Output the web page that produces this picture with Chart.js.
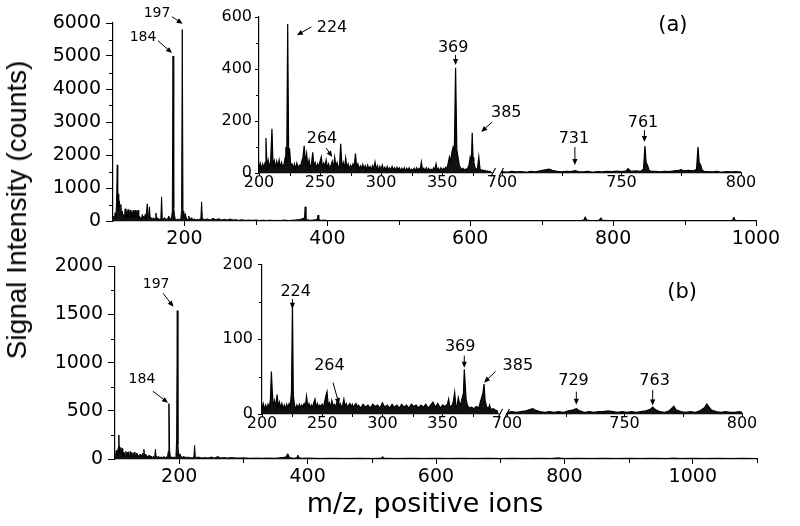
<!DOCTYPE html>
<html><head><meta charset="utf-8">
<script src="https://cdn.jsdelivr.net/npm/chart.js@4.4.1/dist/chart.umd.min.js"></script>
<style>
html,body{margin:0;padding:0;background:#fff;}
#wrap{position:relative;width:800px;height:526px;overflow:hidden;background:#fff;}
#wrap canvas{position:absolute;left:0;}
.title{position:absolute;color:#000;white-space:nowrap;line-height:32px;}
#ytitle{font-family:'Liberation Sans';font-size:28px;left:17px;top:210px;transform:translate(-50%,-50%) rotate(-90deg);}
#xtitle{font-family:'DejaVu Sans';font-size:27px;left:425px;top:487px;transform:translateX(-50%);}
</style></head><body>
<div id="wrap">
<canvas id="mainA" width="800" height="260" style="top:0px"></canvas>
<canvas id="mainB" width="800" height="250" style="top:250px"></canvas>
<canvas id="insAL" width="800" height="200" style="top:0px"></canvas>
<canvas id="insAR" width="800" height="200" style="top:0px"></canvas>
<canvas id="insBL" width="800" height="200" style="top:250px"></canvas>
<canvas id="insBR" width="800" height="200" style="top:250px"></canvas>
<div id="ytitle" class="title">Signal Intensity (counts)</div>
<div id="xtitle" class="title">m/z, positive ions</div>
</div>
<script>
// ---------- data: [m/z, counts] ----------
const spectrumA = [[100,0],[101,150],[102,60],[103,250],[104,100],[105,600],[106,1700],[106.6,300],[107,820],[108,400],[109,610],[110,250],[111,500],[112,150],[113,300],[114,100],[115,200],[116,80],[117,370],[118,120],[119,300],[120,100],[121,350],[122,90],[123,200],[124,330],[125,120],[126,280],[127,80],[128,320],[129,100],[130,250],[131,330],[132,90],[133,300],[134,150],[135,330],[136,80],[137,150],[138,60],[139,120],[140,50],[141,200],[142,80],[143,150],[144,60],[145,200],[146,100],[147,300],[148,520],[149,150],[150,200],[151,430],[152,120],[153,100],[154,60],[155,80],[156,50],[157,100],[158,40],[159,80],[160,240],[161,60],[162,100],[163,50],[164,80],[165,40],[166,60],[167,100],[168,730],[169,80],[170,50],[172,100],[174,60],[176,40],[178,150],[180,60],[182,100],[183,300],[184,5000],[185,400],[186,200],[187,60],[189,40],[191,60],[193,40],[195,80],[196,350],[197,5800],[198,300],[199,100],[201,230],[203,60],[205,40],[206,150],[208,50],[210,100],[212,40],[214,60],[216,30],[218,50],[220,40],[222,60],[223,100],[224,580],[225,100],[226,60],[228,40],[232,60],[236,30],[240,80],[244,40],[248,70],[252,30],[256,50],[260,30],[264,60],[268,30],[272,40],[276,20],[280,40],[285,20],[290,30],[295,20],[300,30],[305,15],[310,25],[315,15],[320,25],[325,15],[330,20],[335,15],[340,30],[345,15],[350,20],[355,30],[360,40],[364,60],[366,80],[368,100],[369,430],[370,80],[372,40],[376,20],[380,30],[384,40],[386,60],[387,180],[388,40],[392,20],[396,30],[400,10],[420,15],[440,10],[460,12],[480,8],[500,12],[520,10],[540,8],[560,10],[580,8],[600,10],[620,8],[640,10],[660,8],[680,10],[700,8],[720,15],[740,8],[755,15],[759,30],[761,130],[763,30],[770,10],[780,20],[783,100],[785,20],[800,10],[820,8],[840,10],[860,8],[880,10],[900,8],[920,10],[940,8],[960,10],[967,20],[969,120],[971,20],[980,8],[1000,5]];

const spectrumB = [[100,0],[101,40],[102,90],[103,30],[104,60],[105,120],[106,250],[106.6,60],[107,130],[108,60],[109,120],[110,50],[111,110],[112,40],[113,70],[114,30],[115,60],[116,25],[117,80],[118,30],[119,70],[120,25],[121,75],[122,30],[123,60],[124,80],[125,30],[126,70],[127,25],[128,60],[129,30],[130,70],[131,50],[132,20],[133,60],[134,30],[135,50],[136,20],[137,40],[138,20],[139,50],[140,30],[141,40],[142,20],[143,60],[144,40],[145,100],[146,30],[147,50],[148,20],[149,40],[150,20],[151,30],[152,15],[153,40],[154,20],[155,30],[156,15],[157,25],[158,15],[159,20],[160,30],[161,15],[162,40],[163,100],[164,20],[165,30],[166,15],[168,25],[170,15],[172,20],[174,15],[176,25],[178,15],[180,20],[182,30],[183,80],[184,575],[185,100],[186,30],[188,20],[190,15],[192,20],[194,15],[195,40],[196,200],[197,1540],[198,150],[199,40],[201,55],[203,25],[205,15],[207,30],[209,15],[211,20],[213,15],[215,20],[217,10],[219,15],[221,10],[223,30],[224,140],[225,30],[227,15],[230,20],[235,10],[240,15],[245,10],[250,20],[255,10],[260,25],[265,10],[270,15],[275,10],[280,15],[290,10],[300,12],[310,8],[320,10],[330,8],[340,10],[350,8],[360,15],[366,20],[369,55],[372,15],[378,8],[383,12],[385,40],[387,12],[392,8],[400,10],[420,6],[440,8],[460,6],[480,8],[500,6],[515,8],[517,25],[519,8],[540,6],[560,8],[580,6],[600,8],[620,6],[640,8],[660,6],[680,8],[700,6],[720,8],[740,6],[760,8],[780,6],[790,12],[800,6],[820,8],[840,6],[860,8],[880,6],[900,8],[920,6],[940,8],[960,6],[970,10],[980,6],[1000,8],[1020,6],[1040,8],[1060,6],[1080,8],[1100,5]];

const insetA_low = [[200,20],[201,38],[202,15],[203,35],[204,20],[205,40],[205.7,135],[206.5,25],[207.5,50],[208.5,20],[209.5,45],[210.6,170],[211.5,30],[212.5,48],[213.5,20],[214.5,45],[215.5,25],[216.5,50],[217.5,22],[218.5,40],[219.5,20],[220.5,35],[221.5,60],[222,100],[222.7,40],[223.5,573],[224.3,60],[225,95],[226,30],[227,35],[228,18],[229,35],[230,15],[231,38],[232,20],[233,30],[234,25],[235,45],[236,60],[237,105],[238,40],[239,75],[240,25],[241,50],[242,20],[243,35],[244,80],[245,25],[246,40],[247,20],[248,35],[249,25],[250,45],[251,62],[252,20],[253,38],[254,25],[255,50],[256,20],[257,35],[258,18],[259,30],[260,45],[261,20],[262,60],[263,25],[264,40],[265,20],[266,30],[266.9,112],[268,20],[269,40],[270,18],[271,58],[272,20],[273,35],[274,15],[275,30],[276,20],[277,35],[278,25],[279,75],[280,20],[281,35],[282,15],[283,28],[284,18],[285,33],[286,15],[287,28],[288,12],[289,30],[290,15],[291,25],[292,12],[293,28],[294,15],[295,42],[296,15],[297,28],[298,10],[299,25],[300,12],[301,30],[302,12],[303,22],[304,10],[305,25],[306,12],[307,20],[308,10],[309,25],[310,12],[311,20],[312,10],[313,22],[314,12],[315,20],[316,8],[317,18],[318,10],[319,20],[320,8],[321,18],[322,10],[323,20],[324,8],[325,15],[326,10],[327,18],[328,8],[329,20],[330,10],[331,18],[332,12],[333,42],[334,10],[335,18],[336,8],[337,20],[338,10],[339,18],[340,8],[341,15],[342,10],[343,20],[344,12],[345,35],[346,10],[347,18],[348,8],[349,20],[350,10],[351,18],[352,12],[353,22],[354,15],[355,40],[356,62],[357,45],[358,80],[359,100],[360,88],[361,405],[362,90],[363,60],[364,30],[365,20],[366,12],[367,18],[368,10],[369,15],[370,12],[371,20],[372,30],[373,62],[374,50],[374.6,155],[375.3,60],[376,40],[377,20],[378,12],[379,20],[380,62],[381,15],[382,10],[383,12],[384,8],[385,10],[386,6],[387,8],[388,5],[389,6],[390,4]];

const insetA_high = [[700,5],[702,3],[704,6],[706,4],[708,5],[710,3],[712,6],[714,4],[716,8],[718,12],[719.7,15],[721,10],[723,6],[725,4],[727,6],[729,5],[730.5,9],[732,5],[734,4],[736,6],[738,3],[740,5],[742,4],[744,6],[746,5],[748,7],[750,5],[752,8],[752.7,17],[754,6],[756,8],[758,6],[759.2,14],[759.8,104],[760.3,40],[760.9,30],[761.5,10],[762.5,6],[764,6],[766,4],[768,6],[770,5],[772,8],[774,10],[775,13],[776,8],[778,10],[780,8],[781.4,14],[782,100],[782.5,40],[783.1,32],[783.8,10],[785,5],[786,5],[788,4],[790,6],[792,3],[794,5],[796,4],[798,5],[800,3]];

const insetB_low = [[200,8],[201,14],[202,6],[203,12],[204,7],[205,13],[206,8],[207,20],[207.8,57],[208.6,28],[209.5,10],[210.5,18],[211.5,8],[212.5,26],[213.5,10],[214.5,16],[215.5,8],[216.5,14],[217.5,7],[218.5,12],[219.5,6],[220.5,13],[221.5,8],[222.5,14],[223.5,10],[224.5,30],[225.3,150],[226,25],[227,12],[228,6],[229,12],[230,7],[231,13],[232,8],[233,12],[234,10],[235,14],[236,9],[237,24],[238,10],[239,14],[240,8],[241,12],[242,9],[243,15],[244,20],[245,9],[246,14],[247,8],[248,12],[249,10],[250,13],[251,8],[252,16],[253,24],[254,30],[255,12],[256,15],[257,8],[258,18],[259,10],[260,13],[261,9],[262,15],[263,20],[264,10],[265,14],[266,8],[267,12],[268,20],[269,10],[270,14],[271,8],[272,12],[273,14],[274,9],[275,13],[276,8],[277,12],[278,14],[279,9],[280,12],[282,8],[284,13],[286,9],[288,12],[290,8],[292,13],[294,10],[296,12],[298,8],[300,15],[302,9],[304,12],[306,8],[308,13],[310,9],[312,12],[314,8],[316,13],[318,9],[320,12],[322,8],[324,13],[326,10],[328,12],[330,8],[332,12],[334,9],[336,13],[338,8],[340,12],[342,16],[344,9],[346,14],[348,8],[350,12],[352,10],[354,13],[355,20],[356,9],[358,12],[359,18],[360,29],[361,12],[362,10],[363,22],[364,15],[365,12],[366,20],[367.3,28],[368,60],[369.5,20],[370.5,12],[372,8],[374,9],[376,7],[378,10],[380,8],[382,20],[383.5,28],[384.4,40],[385.3,18],[386.5,10],[388,7],[389,12],[390,6],[392,7],[394,5],[396,4]];

const insetB_high = [[700,2],[702,3],[704,2],[706,3],[708,4],[710,6],[711,7],[712,5],[714,3],[716,2],[718,3],[720,2],[722,3],[724,2],[726,4],[728,5],[729.5,7],[731,4],[733,2],[735,3],[737,2],[739,3],[741,3],[743,4],[745,3],[747,2],[749,3],[751,2],[753,3],[755,2],[757,3],[759,4],[761,6],[762,9],[763,6],[765,3],[767,2],[769,4],[771,10],[772,5],[774,3],[776,2],[778,3],[780,2],[782,4],[784,8],[785,13],[786,9],[787,5],[789,3],[791,2],[793,3],[795,2],[797,2],[799,3],[800,2]];

// tick values
const ticksMainAX = [200,400,600,800,1000], minorMainAX = [300,500,700,900];
const ticksMainAY = [0,1000,2000,3000,4000,5000,6000], minorMainAY = [500,1500,2500,3500,4500,5500];
const ticksMainBX = [200,400,600,800,1000], minorMainBX = [300,500,700,900,1100];
const ticksMainBY = [0,500,1000,1500,2000], minorMainBY = [250,750,1250,1750];
const ticksInsLowX = [200,250,300,350], minorInsLowX = [225,275,325,375];
const ticksInsHighX = [700,750,800], minorInsHighX = [725,775];
const ticksInsAY = [0,200,400,600], minorInsAY = [100,300,500];
const ticksInsBY = [0,100,200], minorInsBY = [50,150];

// peak labels (text, text anchor, arrow tail, arrow tip) in data units
const labelsMainA = [
  {text:'197', tx:161.6, ty:6280, x1:182.6, y1:6190, x2:197.5, y2:5975},
  {text:'184', tx:142, ty:5550, x1:163, y1:5460, x2:182.6, y2:5090}];
const labelsMainB = [
  {text:'197', tx:164, ty:1810, x1:175, y1:1720, x2:191, y2:1580},
  {text:'184', tx:142, ty:824, x1:159, y1:704, x2:182.6, y2:583}];
const labelsInsAL = [
  {text:'224', tx:259.8, ty:560, x1:243, y1:562, x2:231, y2:530},
  {text:'264', tx:251.6, ty:131, x1:255, y1:96, x2:260, y2:62},
  {text:'369', tx:359, ty:483, x1:361, y1:454, x2:361, y2:415},
  {text:'385', tx:402.5, ty:231, x1:391, y1:196, x2:382, y2:158}];
const labelsInsAR = [
  {text:'731', tx:730.1, ty:133, x1:730.5, y1:100, x2:730.5, y2:31},
  {text:'761', tx:759, ty:194, x1:759.6, y1:165, x2:759.6, y2:119},
  {text:'(a)', tx:771.5, ty:569, big:true}];
const labelsInsBL = [
  {text:'224', tx:228, ty:164, x1:225.3, y1:154, x2:225.3, y2:141},
  {text:'264', tx:256, ty:64, x1:259, y1:42, x2:264, y2:13},
  {text:'369', tx:364.6, ty:90, x1:368, y1:78, x2:368, y2:62},
  {text:'385', tx:412.5, ty:64, x1:394, y1:57, x2:384.4, y2:42}];
const labelsInsBR = [
  {text:'729', tx:728.3, ty:43, x1:729.5, y1:29, x2:729.5, y2:12},
  {text:'763', tx:762.8, ty:43, x1:762, y1:31, x2:762, y2:11},
  {text:'(b)', tx:774.5, ty:158, big:true}];

// ---------- plugins ----------
Chart.defaults.font.family = 'DejaVu Sans';
Chart.defaults.color = '#000';

const minorPlugin = {
  id: 'minor',
  afterDraw(chart, args, o) {
    const ctx = chart.ctx;
    ctx.save(); ctx.strokeStyle = '#000'; ctx.lineWidth = 1;
    (o.items || []).forEach(it => {
      const s = chart.scales[it.axis];
      if (!s || !s.options.display) return;
      it.values.forEach(v => {
        const p = Math.round(s.getPixelForValue(v)) + 0.5;
        ctx.beginPath();
        if (s.isHorizontal()) { ctx.moveTo(p, s.top); ctx.lineTo(p, s.top + it.len); }
        else { ctx.moveTo(s.right, p); ctx.lineTo(s.right - it.len, p); }
        ctx.stroke();
      });
    });
    ctx.restore();
  }
};

const notePlugin = {
  id: 'notes',
  afterDatasetsDraw(chart, args, o) {
    const ctx = chart.ctx, xs = chart.scales.x, ys = chart.scales.y;
    ctx.save();
    ctx.fillStyle = '#000'; ctx.strokeStyle = '#000';
    ctx.textAlign = 'center'; ctx.textBaseline = 'middle';
    (o.items || []).forEach(n => {
      ctx.font = (n.big ? o.bigSize : o.size) + "px 'DejaVu Sans'";
      ctx.fillText(n.text, xs.getPixelForValue(n.tx), ys.getPixelForValue(n.ty));
      if (n.x1 === undefined) return;
      const x1 = xs.getPixelForValue(n.x1), y1 = ys.getPixelForValue(n.y1);
      const x2 = xs.getPixelForValue(n.x2), y2 = ys.getPixelForValue(n.y2);
      const a = Math.atan2(y2 - y1, x2 - x1), L = 6, W = 2.6;
      ctx.lineWidth = 1;
      ctx.beginPath(); ctx.moveTo(x1, y1);
      ctx.lineTo(x2 - Math.cos(a) * L * 0.8, y2 - Math.sin(a) * L * 0.8); ctx.stroke();
      ctx.beginPath();
      ctx.moveTo(x2, y2);
      ctx.lineTo(x2 - Math.cos(a) * L - Math.sin(a) * W, y2 - Math.sin(a) * L + Math.cos(a) * W);
      ctx.lineTo(x2 - Math.cos(a) * L + Math.sin(a) * W, y2 - Math.sin(a) * L - Math.cos(a) * W);
      ctx.closePath(); ctx.fill();
    });
    ctx.restore();
  }
};

const breakPlugin = {
  id: 'brk',
  afterDraw(chart, args, o) {
    if (!o.gap) return;
    const ctx = chart.ctx, r = chart.chartArea.right, b = chart.chartArea.bottom;
    ctx.save(); ctx.strokeStyle = '#000'; ctx.lineWidth = 1.1;
    [0, o.gap].forEach(dx => {
      ctx.beginPath(); ctx.moveTo(r + dx, b + 3.5); ctx.lineTo(r + dx + 4.5, b - 5); ctx.stroke();
    });
    ctx.restore();
  }
};

function build(id, c) {
  const num = v => String(v);
  return new Chart(document.getElementById(id), {
    type: 'line',
    data: { datasets: [{ data: c.data.map(p => ({x: p[0], y: p[1]})),
      borderColor: '#000', backgroundColor: '#111', borderWidth: c.lw || 1,
      pointRadius: 0, tension: 0, fill: 'origin' }] },
    options: {
      responsive: false, animation: false, events: [],
      layout: { autoPadding: false, padding: c.pad },
      plugins: {
        legend: {display: false}, tooltip: {enabled: false}, filler: {propagate: false},
        minor: { items: [ {axis: 'x', values: c.xMinor, len: c.mlx}, {axis: 'y', values: c.yMinor || [], len: c.mly} ] },
        notes: { items: c.notes || [], size: c.noteSize, bigSize: 21 },
        brk: { gap: c.gap || 0 }
      },
      scales: {
        x: { type: 'linear', min: c.xr[0], max: c.xr[1],
          afterBuildTicks: s => { s.ticks = c.xTicks.map(v => ({value: v})); },
          afterFit: s => { s.height = c.xh; },
          grid: { drawOnChartArea: false, drawTicks: true, tickLength: c.tlx, tickColor: '#000', tickWidth: 1 },
          border: { display: true, color: '#000', width: 1.2 },
          ticks: { font: {size: c.fs, family: 'DejaVu Sans'}, color: '#000', padding: c.padx,
                   maxRotation: 0, autoSkip: false, callback: num } },
        y: { type: 'linear', display: c.showY, min: c.yr[0], max: c.yr[1],
          afterBuildTicks: s => { s.ticks = c.yTicks.map(v => ({value: v})); },
          afterFit: s => { s.width = c.yw; },
          grid: { drawOnChartArea: false, drawTicks: true, tickLength: c.tly, tickColor: '#000', tickWidth: 1 },
          border: { display: true, color: '#000', width: 1.2 },
          ticks: { font: {size: c.fs, family: 'DejaVu Sans'}, color: '#000', padding: c.pady,
                   autoSkip: false, callback: num } }
      }
    },
    plugins: [minorPlugin, notePlugin, breakPlugin]
  });
}

// main panel (a)
build('mainA', { data: spectrumA, xr: [100, 1000], yr: [0, 6000],
  xTicks: ticksMainAX, xMinor: minorMainAX, yTicks: ticksMainAY, yMinor: minorMainAY,
  pad: {left: 0, top: 23, right: 44, bottom: 0}, yw: 113, xh: 39, showY: true,
  fs: 19, tlx: 5, tly: 7, mlx: 4, mly: 4, padx: 2, pady: 5, notes: labelsMainA, noteSize: 14 });
// main panel (b)
build('mainB', { data: spectrumB, xr: [100, 1100], yr: [0, 2000],
  xTicks: ticksMainBX, xMinor: minorMainBX, yTicks: ticksMainBY, yMinor: minorMainBY,
  pad: {left: 0, top: 10, right: 43, bottom: 0}, yw: 115, xh: 41, showY: true,
  fs: 19, tlx: 5, tly: 7, mlx: 4, mly: 4, padx: 2, pady: 5, notes: labelsMainB, noteSize: 14 });
// inset (a), low and high m/z segments
build('insAL', { data: insetA_low, xr: [200, 390], yr: [0, 600], lw: 1.2,
  xTicks: ticksInsLowX, xMinor: minorInsLowX, yTicks: ticksInsAY, yMinor: minorInsAY,
  pad: {left: 0, top: 17, right: 309, bottom: 0}, yw: 259, xh: 27, showY: true,
  fs: 16, tlx: 3, tly: 4, mlx: 3, mly: 3, padx: -3, pady: 3, notes: labelsInsAL, noteSize: 16, gap: 8 });
build('insAR', { data: insetA_high, xr: [700, 800], yr: [0, 600], lw: 1.2,
  xTicks: ticksInsHighX, xMinor: minorInsHighX, yTicks: ticksInsAY,
  pad: {left: 502, top: 17, right: 59, bottom: 0}, yw: 0, xh: 27, showY: false,
  fs: 16, tlx: 3, tly: 4, mlx: 3, mly: 3, padx: -3, pady: 3, notes: labelsInsAR, noteSize: 16 });
// inset (b), low and high m/z segments
build('insBL', { data: insetB_low, xr: [200, 396], yr: [0, 200], lw: 1.2,
  xTicks: ticksInsLowX, xMinor: minorInsLowX, yTicks: ticksInsBY, yMinor: minorInsBY,
  pad: {left: 0, top: 10, right: 302, bottom: 0}, yw: 262, xh: 36, showY: true,
  fs: 16, tlx: 3, tly: 4, mlx: 3, mly: 3, padx: -3, pady: 5, notes: labelsInsBL, noteSize: 16, gap: 7 });
build('insBR', { data: insetB_high, xr: [700, 800], yr: [0, 200], lw: 1.2,
  xTicks: ticksInsHighX, xMinor: minorInsHighX, yTicks: ticksInsBY,
  pad: {left: 507, top: 10, right: 58, bottom: 0}, yw: 0, xh: 36, showY: false,
  fs: 16, tlx: 3, tly: 4, mlx: 3, mly: 3, padx: -3, pady: 5, notes: labelsInsBR, noteSize: 16 });
</script>
</body></html>
